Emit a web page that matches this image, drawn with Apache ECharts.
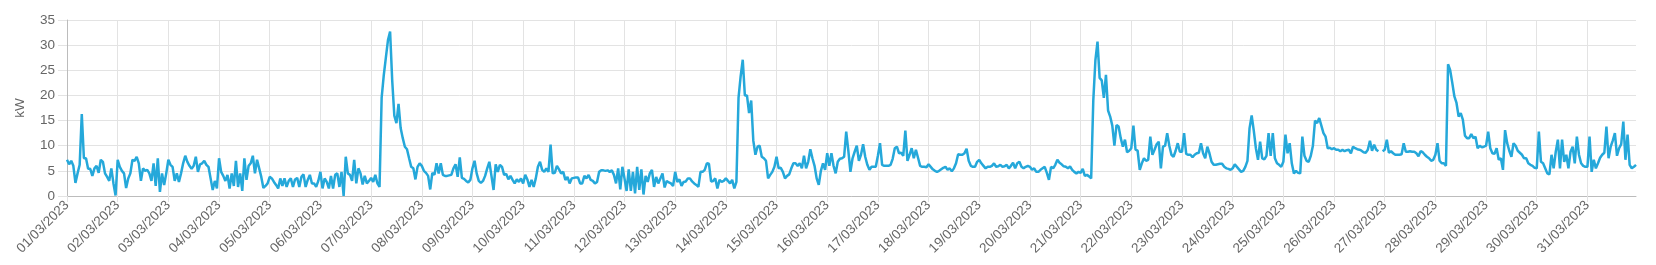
<!DOCTYPE html>
<html>
<head>
<meta charset="utf-8">
<script src="https://cdn.jsdelivr.net/npm/echarts@6/dist/echarts.min.js"></script>
<style>
html,body{margin:0;padding:0;background:#ffffff;}
#chart{width:1656px;height:265px;}
</style>
</head>
<body>
<div id="chart"></div>
<script>
// ---- Data (hourly kW readings, March 2023, one row per day) ----
const yearLabel = '2023';
const monthLabel = '03';
const yMin = 0, yMax = 35, yStep = 5;
const yAxisName = 'kW';

const kwByDay = [
  /* 01 */ [7.2,6.3,7.0,6.0,2.6,4.5,6.2,16.3,7.5,7.5,5.4,5.4,4.0,5.5,6.0,4.6,7.2,6.8,4.5,3.8,3.0,5.5,2.5,0.1],
  /* 02 */ [7.2,5.8,5.0,4.5,1.6,3.5,4.5,7.2,7.0,7.8,6.5,3.0,5.5,5.0,5.2,4.5,3.0,6.5,2.0,7.5,0.8,4.5,2.2,4.5],
  /* 03 */ [7.2,6.2,5.8,3.0,4.5,2.8,4.5,6.5,8.0,6.8,6.0,5.4,6.0,7.8,4.8,6.3,6.5,7.0,6.2,5.8,3.5,1.2,3.0,1.5],
  /* 04 */ [7.5,4.8,4.0,3.0,4.2,1.5,4.5,2.0,7.0,1.8,4.5,1.0,7.5,3.2,6.0,6.5,8.0,4.5,7.2,5.5,3.8,1.6,2.0,2.5],
  /* 05 */ [3.8,3.5,2.8,2.2,1.5,3.5,2.0,3.5,1.8,3.0,3.5,1.8,3.3,3.6,1.8,3.8,4.3,1.8,3.2,4.2,2.5,2.5,1.8,3.0],
  /* 06 */ [4.8,1.5,3.5,2.8,1.5,4.0,1.5,4.2,4.5,1.8,4.8,0.0,7.8,4.5,4.2,3.0,7.2,2.5,5.5,4.5,2.3,4.0,2.5,3.0],
  /* 07 */ [3.6,2.8,4.2,2.5,1.8,19.5,24.0,27.5,31.0,32.7,23.0,16.0,14.5,18.3,13.5,11.5,9.8,9.3,7.5,5.8,5.5,3.3,5.8,6.5],
  /* 08 */ [6.0,5.0,4.6,4.0,1.3,4.6,4.2,6.5,4.5,6.5,4.2,4.0,4.0,4.1,4.2,5.5,6.3,3.8,7.7,3.6,3.4,3.0,2.7,3.2],
  /* 09 */ [5.5,7.0,4.5,3.0,2.6,3.0,4.0,5.5,6.8,4.0,1.2,6.3,4.8,6.2,5.8,4.2,4.4,3.3,4.0,3.2,2.5,3.3,2.8,3.5],
  /* 10 */ [2.5,4.2,3.3,1.8,3.2,1.8,3.5,5.8,6.8,5.2,4.8,5.5,4.8,10.2,4.5,4.6,6.0,5.3,4.5,4.8,3.2,3.8,2.5,3.5],
  /* 11 */ [3.6,3.7,3.7,2.5,2.5,4.0,3.5,4.2,3.2,3.0,2.5,2.8,4.8,5.1,5.1,5.0,5.1,4.8,5.1,4.2,2.5,5.5,1.3,5.8],
  /* 12 */ [3.5,1.0,5.3,1.0,4.8,0.5,5.8,1.2,5.3,0.3,4.0,2.8,4.5,5.2,1.8,3.8,2.5,3.5,4.5,1.7,3.0,2.7,2.5,2.0],
  /* 13 */ [4.8,2.8,3.3,2.0,2.8,2.9,3.5,3.5,2.9,2.5,2.2,1.8,4.8,4.8,5.2,6.5,6.4,2.9,3.0,3.5,1.5,3.2,2.8,3.0],
  /* 14 */ [3.5,3.0,2.5,3.2,1.5,2.8,19.5,23.8,27.1,20.0,20.0,16.5,19.0,11.0,8.2,9.8,10.0,7.8,7.5,7.0,3.5,4.2,4.8,5.8],
  /* 15 */ [7.8,5.5,5.6,4.8,3.5,4.0,4.3,5.5,6.5,6.5,6.0,6.5,5.5,8.0,5.5,6.8,9.3,7.5,6.0,3.5,2.2,5.0,6.5,5.2],
  /* 16 */ [8.5,6.0,8.5,6.0,4.5,6.8,7.4,7.5,7.8,12.8,9.0,4.8,7.5,8.8,10.0,7.0,8.2,10.3,7.8,6.2,5.2,5.8,5.8,5.8],
  /* 17 */ [8.0,10.5,6.2,6.0,6.0,6.0,6.2,7.4,9.5,9.8,8.5,8.6,8.0,13.0,7.0,8.2,9.5,7.5,9.2,7.6,6.0,5.8,5.8,5.7],
  /* 18 */ [6.3,5.8,5.3,5.0,4.8,5.0,5.3,5.6,5.8,5.2,5.5,4.9,5.5,6.5,8.3,8.2,8.2,8.5,9.4,7.0,6.0,5.8,5.8,6.8],
  /* 19 */ [7.2,6.5,6.0,5.5,5.8,5.8,6.0,6.5,5.8,5.9,6.2,5.8,5.9,6.2,5.5,6.0,6.6,5.5,6.5,6.8,5.8,5.5,5.8,6.0],
  /* 20 */ [5.8,5.2,5.5,4.8,4.8,5.2,5.5,5.8,4.6,3.2,5.8,5.5,6.2,7.2,6.6,6.3,5.9,5.8,5.5,5.9,5.2,4.8,4.5,4.8],
  /* 21 */ [4.6,5.4,4.0,4.2,3.9,3.5,19.0,27.0,30.7,23.5,23.0,19.5,24.1,17.0,15.8,14.0,10.0,14.1,13.8,11.5,9.8,11.2,8.7,9.0],
  /* 22 */ [9.5,14.0,9.2,9.0,5.2,6.5,7.5,7.0,7.2,11.8,8.2,9.2,10.3,10.8,5.5,9.8,10.0,12.5,10.0,8.2,7.8,9.0,10.5,8.8],
  /* 23 */ [8.8,12.5,8.4,8.2,8.2,7.7,8.2,8.5,8.6,10.5,8.5,7.5,9.8,8.5,6.8,6.2,6.2,6.3,6.4,6.4,5.8,5.5,5.4,5.2],
  /* 24 */ [5.5,6.3,5.8,5.3,4.8,5.0,5.8,7.0,13.5,16.0,13.0,9.5,7.2,10.8,7.5,7.3,8.0,12.5,8.0,12.5,7.5,6.5,6.2,5.8],
  /* 25 */ [6.8,12.2,8.5,10.5,6.5,4.5,5.0,4.6,4.5,11.8,8.0,7.0,6.8,8.0,10.0,15.0,14.5,15.5,14.0,12.5,11.8,9.5,9.6,9.3],
  /* 26 */ [9.5,9.2,9.2,8.9,9.2,8.9,9.1,9.2,8.5,9.8,9.5,9.3,9.2,9.0,8.7,8.6,9.2,11.0,9.0,10.2,9.2,8.9,null,8.9],
  /* 27 */ [9.2,11.2,8.6,8.9,8.5,8.2,8.2,8.2,8.3,10.5,8.8,8.8,8.9,8.8,8.8,8.5,7.9,8.9,8.7,8.2,7.8,7.5,7.0,7.2],
  /* 28 */ [8.2,10.5,7.0,6.5,6.5,6.0,26.2,25.0,22.5,19.8,18.5,15.8,16.5,15.2,12.0,11.5,11.5,12.3,11.5,11.8,9.5,10.0,9.7,9.8],
  /* 29 */ [10.0,12.8,9.5,8.5,8.4,9.5,7.2,7.5,5.2,13.1,10.5,9.0,7.8,10.5,10.0,9.0,8.6,8.2,7.5,7.5,6.5,6.2,6.0,5.6],
  /* 30 */ [5.5,12.8,6.8,6.5,5.5,4.5,4.3,8.2,5.5,8.8,11.2,5.5,11.2,6.8,8.2,5.5,8.8,9.8,6.5,11.8,8.2,6.5,6.0,5.8],
  /* 31 */ [5.8,11.8,4.8,7.2,5.5,6.5,7.6,8.2,8.6,13.8,7.5,9.8,11.0,12.5,8.0,9.5,10.3,14.8,7.2,12.2,6.2,5.5,5.8,6.2]
];

// ---- Categories: one per hour, "DD/MM/YYYY HH:00" ----
const categories = [];
kwByDay.forEach((row, d) => {
  const dd = String(d + 1).padStart(2, '0');
  row.forEach((_, h) => {
    categories.push(dd + '/' + monthLabel + '/' + yearLabel + ' ' + String(h).padStart(2, '0') + ':00');
  });
});
const kwValues = [].concat(...kwByDay);
const hoursPerDay = kwByDay[0].length;
const isDayStart = (i) => i % hoursPerDay === 0;

const chart = echarts.init(document.getElementById('chart'), null, {renderer: 'canvas'});
const gridColor = '#e3e3e3';
const axisColor = '#bcbcbc';
const textColor = '#666666';
const font = 'Liberation Sans, Arial, Helvetica, sans-serif';

chart.setOption({
  animation: false,
  backgroundColor: '#ffffff',
  grid: {left: 67, right: 20, top: 20, bottom: 69, containLabel: false},
  xAxis: {
    type: 'category',
    data: categories,
    boundaryGap: false,
    axisLine: {show: true, lineStyle: {color: axisColor, width: 1}},
    axisTick: {show: true, interval: isDayStart, length: 6, lineStyle: {color: gridColor}},
    axisLabel: {
      interval: isDayStart,
      rotate: 45,
      margin: 7,
      color: textColor,
      fontSize: 13.5,
      fontFamily: font,
      formatter: (v) => v.slice(0, 10)
    },
    splitLine: {show: true, interval: isDayStart, lineStyle: {color: gridColor, width: 1}}
  },
  yAxis: {
    type: 'value',
    min: yMin, max: yMax, interval: yStep,
    name: yAxisName,
    nameLocation: 'middle',
    nameGap: 40,
    nameTextStyle: {color: textColor, fontSize: 13.5, fontFamily: font},
    axisLine: {show: true, lineStyle: {color: axisColor, width: 1}},
    axisTick: {show: true, length: 9, lineStyle: {color: gridColor}},
    axisLabel: {color: textColor, fontSize: 13.5, fontFamily: font, margin: 12},
    splitLine: {show: true, lineStyle: {color: gridColor, width: 1}}
  },
  series: [{
    type: 'line',
    data: kwValues,
    showSymbol: false,
    connectNulls: false,
    smooth: false,
    lineStyle: {color: '#25a8da', width: 2.5},
    itemStyle: {color: '#25a8da'}
  }]
});
</script>
</body>
</html>
